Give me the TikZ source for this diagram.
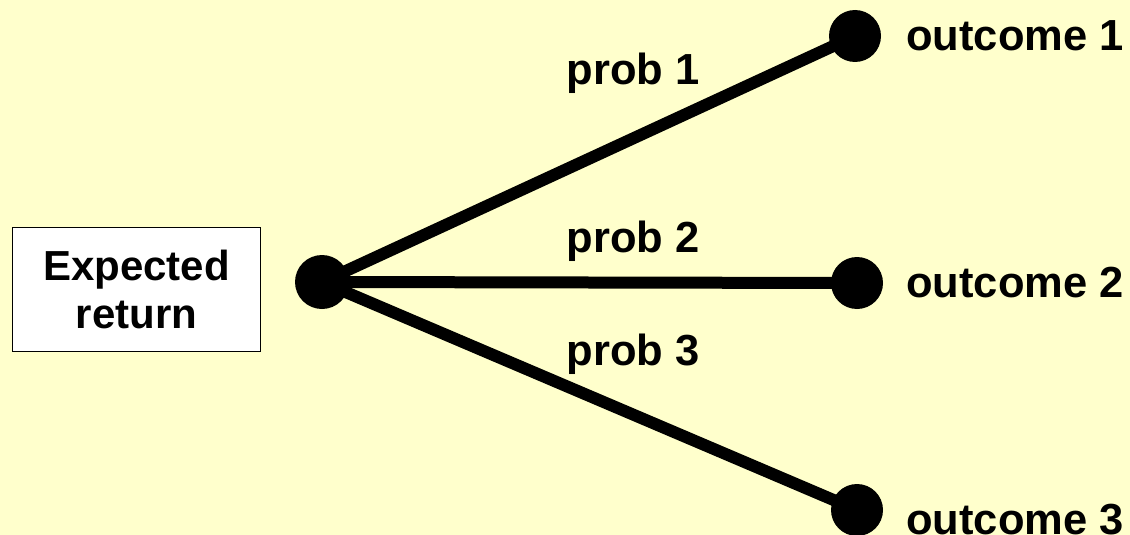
\documentclass[tikz,border=0pt]{standalone}
\usepackage{fontspec}
\setmainfont{Liberation Sans}
\definecolor{bgyellow}{RGB}{255,255,204}
\begin{document}
\begin{tikzpicture}[x=1pt,y=-1pt,
  dot/.style={circle,fill=black,inner sep=0pt,minimum size=54pt},
  branch/.style={line width=12pt},
  lbl/.style={font=\fontsize{43.5}{48}\selectfont\bfseries,inner sep=0pt},
  outlbl/.style={lbl,anchor=west}]
\fill[bgyellow] (0,0) rectangle (1130,535);
\useasboundingbox (0,0) rectangle (1130,535);
\node[draw=black,line width=1.5pt,fill=white,minimum width=248pt,minimum height=124pt,
  align=center,font=\fontsize{42}{48}\selectfont\bfseries] (box) at (136.5,289.5) {Expected\\return};
\node[dot] (c) at (322,282) {};
\node[dot,minimum size=52pt] (o1) at (855,36) {};
\node[dot,minimum size=52pt] (o2) at (857,283) {};
\node[dot,minimum size=52pt] (o3) at (857,510) {};
\draw[branch] (c.center) -- (o1.center);
\draw[branch] (c.center) -- (o2.center);
\draw[branch] (c.center) -- (o3.center);
\node[lbl] (p1) at (633,73) {prob 1};
\node[lbl] (p2) at (633,241) {prob 2};
\node[lbl] (p3) at (633,354) {prob 3};
\node[outlbl] (t1) at (906,36) {outcome 1};
\node[outlbl] (t2) at (906,283) {outcome 2};
\node[outlbl] (t3) at (906,520) {outcome 3};
\end{tikzpicture}
\end{document}
